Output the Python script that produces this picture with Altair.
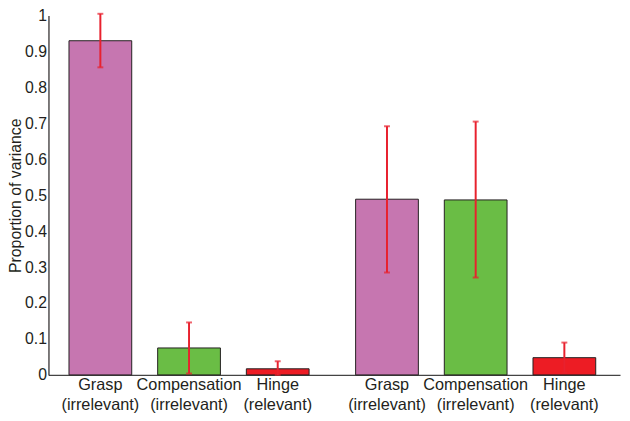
import altair as alt
import pandas as pd

groups = ["Set 1", "Set 1", "Set 1", "Set 2", "Set 2", "Set 2"]
categories = ["Grasp", "Compensation", "Hinge", "Grasp", "Compensation", "Hinge"]
labels = ["Grasp\n(irrelevant)", "Compensation\n(irrelevant)", "Hinge\n(relevant)",
          "Grasp\n(irrelevant)", "Compensation\n(irrelevant)", "Hinge\n(relevant)"]
values = [0.930, 0.075, 0.017, 0.489, 0.487, 0.048]
err_low = [0.856, 0.004, 0.000, 0.285, 0.271, 0.006]
err_high = [1.005, 0.146, 0.038, 0.692, 0.705, 0.090]
y_ticks = [0, 0.1, 0.2, 0.3, 0.4, 0.5, 0.6, 0.7, 0.8, 0.9, 1]

cat_order = ["Grasp", "Compensation", "Hinge"]
cat_colors = ["#C676B0", "#6ABD45", "#ED1C24"]

df = pd.DataFrame({
    "group": groups,
    "cat": categories,
    "label": labels,
    "value": values,
    "lo": err_low,
    "hi": err_high,
})

FONT = "Liberation Sans"
TXT = "#231F20"
ERR = "#E8212E"

yscale = alt.Scale(domain=[0, 1], nice=False)
yaxis = alt.Axis(values=y_ticks, format="~g", ticks=False, grid=False,
                 labelOverlap=False, labelPadding=2,
                 title="Proportion of variance",
                 titlePadding=1, domainColor=TXT, domainWidth=1.2)

base = alt.Chart(df).encode(
    x=alt.X("group:N",
            scale=alt.Scale(paddingInner=0.072, paddingOuter=0.033, align=0.40),
            axis=alt.Axis(labels=False, ticks=False, title=None,
                          domainColor="#444444", domainWidth=1.2)),
    xOffset=alt.XOffset("cat:N", sort=cat_order,
                        scale=alt.Scale(domain=cat_order, paddingInner=0.2925, paddingOuter=0.146)),
)

bars = base.mark_bar(stroke=TXT, strokeWidth=1).encode(
    y=alt.Y("value:Q", scale=yscale, axis=yaxis),
    color=alt.Color("cat:N", scale=alt.Scale(domain=cat_order, range=cat_colors), legend=None),
)

rules = base.mark_rule(color=ERR, strokeWidth=2).encode(
    y=alt.Y("lo:Q", scale=yscale, axis=yaxis), y2="hi:Q"
)
caps_hi = base.mark_tick(color=ERR, thickness=2, size=6).encode(
    y=alt.Y("hi:Q", scale=yscale, axis=yaxis))
caps_lo = base.mark_tick(color=ERR, thickness=2, size=6).encode(
    y=alt.Y("lo:Q", scale=yscale, axis=yaxis))

texts = base.mark_text(font=FONT, fontSize=16.5, color=TXT, lineBreak="\n",
                       baseline="alphabetic", lineHeight=21, align="center").encode(
    text="label:N",
    y=alt.value(379),
)

chart = alt.layer(bars, rules, caps_hi, caps_lo, texts).properties(
    width=579, height=364,
    autosize=alt.AutoSizeParams(type="none"),
    padding={"left": 41, "top": 5, "right": 2, "bottom": 44},
).configure_view(stroke=None).configure_axis(
    labelFont=FONT, labelFontSize=16, labelColor=TXT,
    titleFont=FONT, titleFontSize=16, titleColor=TXT, titleFontWeight="normal",
)

chart.save("out.html", embed_options={"renderer": "svg", "actions": False})
